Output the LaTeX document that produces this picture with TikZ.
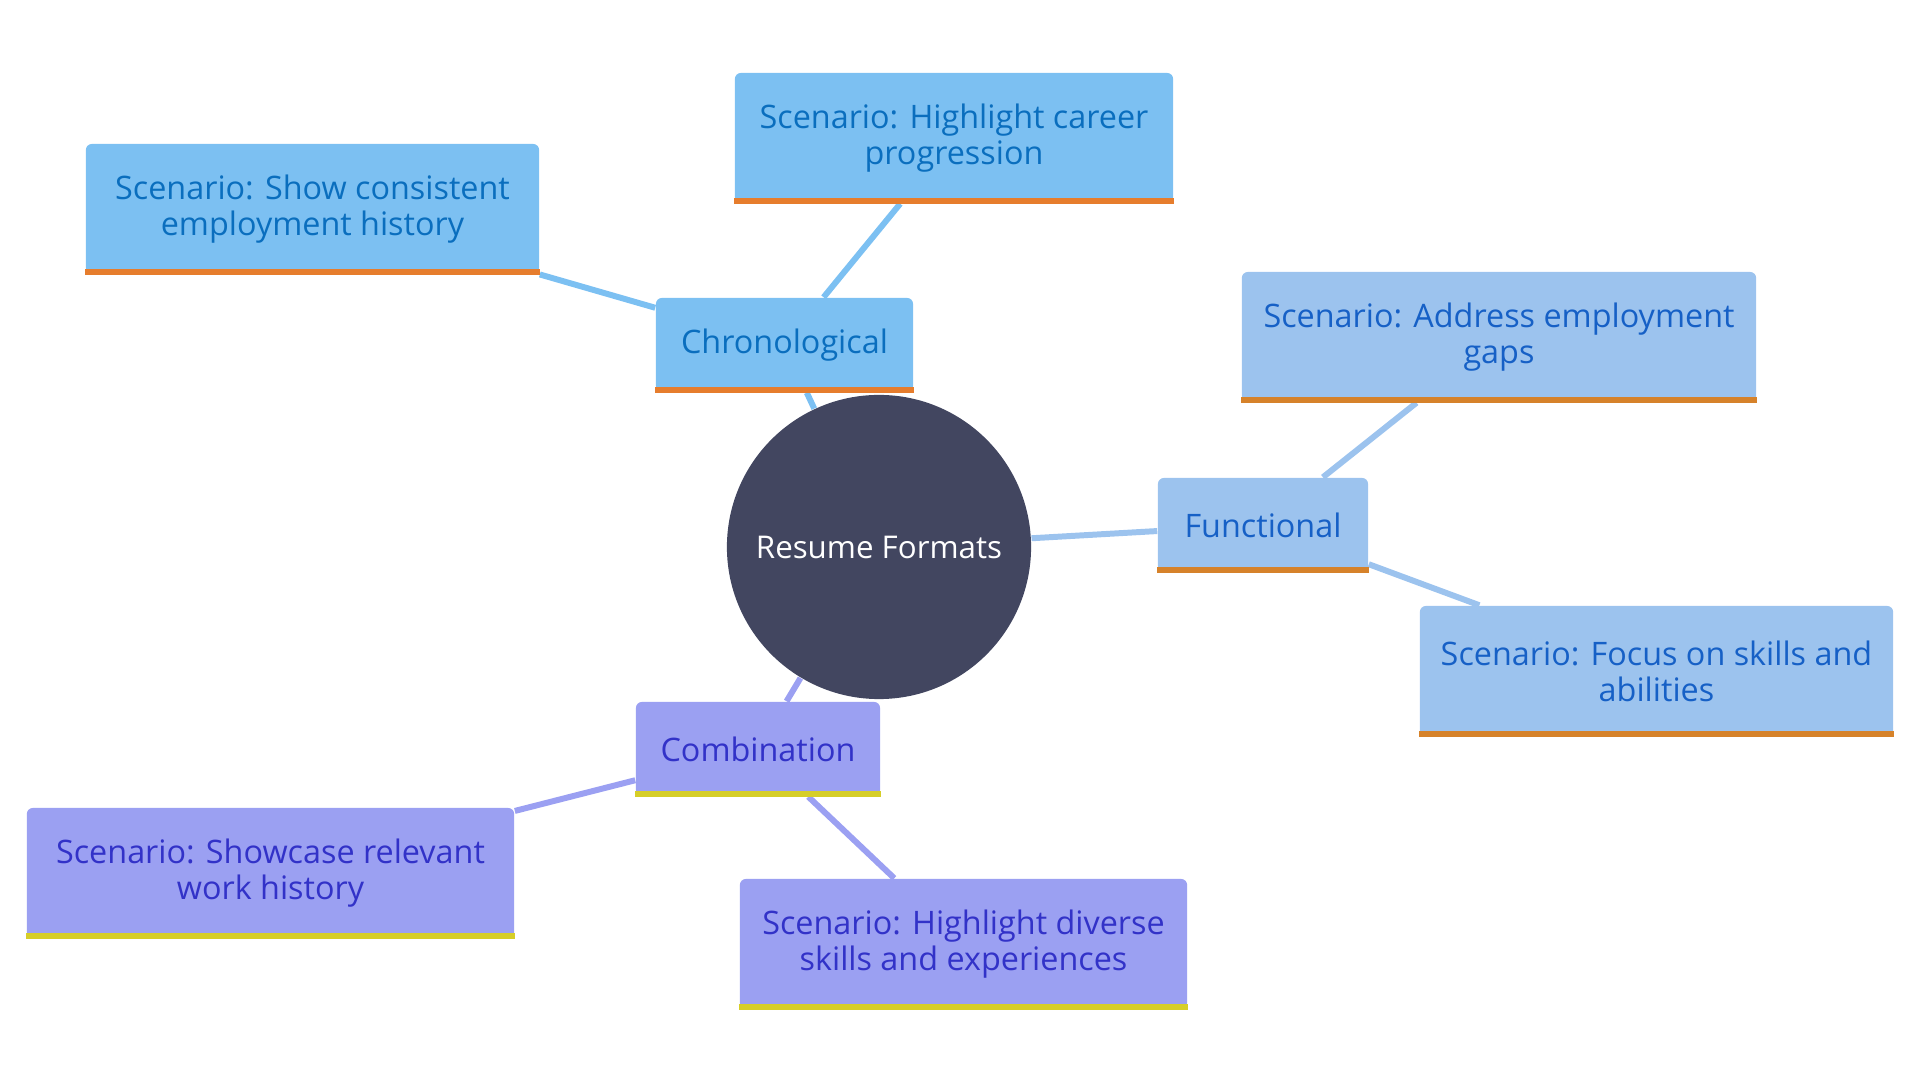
\documentclass[tikz,border=0pt]{standalone}
\usepackage{fontspec}
\setmainfont{Open Sans}
\usetikzlibrary{backgrounds}
\definecolor{chronofill}{HTML}{7CC0F2}
\definecolor{chronotext}{HTML}{0A6EBE}
\definecolor{chronoline}{HTML}{E67D2D}
\definecolor{funcfill}{HTML}{9CC3EE}
\definecolor{functext}{HTML}{1660C6}
\definecolor{funcline}{HTML}{D6822A}
\definecolor{combofill}{HTML}{9BA0F2}
\definecolor{combotext}{HTML}{3232C8}
\definecolor{comboline}{HTML}{D6CE28}
\definecolor{rootfill}{HTML}{424660}
\tikzset{
  topic/.style={rounded corners=1.7pt, align=center, inner sep=0pt,
    font=\fontsize{9.2}{10.2}\selectfont},
  chrono/.style={topic, fill=chronofill, text=chronotext},
  func/.style={topic, fill=funcfill, text=functext},
  combo/.style={topic, fill=combofill, text=combotext},
  branch/.style={line width=1.7pt}
}
\newcommand{\stripe}[2]{\fill[#2] ([yshift=1.7pt]#1.south west) rectangle (#1.south east);}

\begin{document}
\begin{tikzpicture}[x=0.01cm,y=-0.01cm]
  \useasboundingbox (0,0) rectangle (1920,1080);
  % centre
  \node[circle, fill=rootfill, text=white, minimum size=3.04cm, inner sep=0pt,
    font=\fontsize{8.9}{10}\selectfont] (root) at (879,547) {Resume Formats};
  % chronological
  \node[chrono, minimum width=2.57cm, minimum height=0.94cm] (chrono) at (784.5,345) {Chronological};
  \node[chrono, minimum width=4.38cm, minimum height=1.30cm] (career) at (954,138) {Scenario: Highlight career\\progression};
  \node[chrono, minimum width=4.53cm, minimum height=1.30cm] (consist) at (312.5,209) {Scenario: Show consistent\\employment history};
  % functional
  \node[func, minimum width=2.10cm, minimum height=0.94cm] (func) at (1263,525) {Functional};
  \node[func, minimum width=5.14cm, minimum height=1.30cm] (gaps) at (1499,337) {Scenario: Address employment\\gaps};
  \node[func, minimum width=4.73cm, minimum height=1.30cm] (focus) at (1656.5,671) {Scenario: Focus on skills and\\abilities};
  % combination
  \node[combo, minimum width=2.44cm, minimum height=0.94cm] (combo) at (758,749) {Combination};
  \node[combo, minimum width=4.87cm, minimum height=1.30cm] (showcase) at (270.5,873) {Scenario: Showcase relevant\\work history};
  \node[combo, minimum width=4.47cm, minimum height=1.30cm] (diverse) at (963.5,944) {Scenario: Highlight diverse\\skills and experiences};
  % bottom stripes
  \foreach \n in {chrono,career,consist} {\stripe{\n}{chronoline}}
  \foreach \n in {func,gaps,focus} {\stripe{\n}{funcline}}
  \foreach \n in {combo,showcase,diverse} {\stripe{\n}{comboline}}
  % branches
  \begin{scope}[on background layer]
    \draw[branch, chronofill] (root) -- (chrono) (chrono) -- (career) (chrono) -- (consist);
    \draw[branch, funcfill] (root) -- (func) (func) -- (gaps) (func) -- (focus);
    \draw[branch, combofill] (root) -- (combo) (combo) -- (showcase) (combo) -- (diverse);
  \end{scope}
\end{tikzpicture}
\end{document}
